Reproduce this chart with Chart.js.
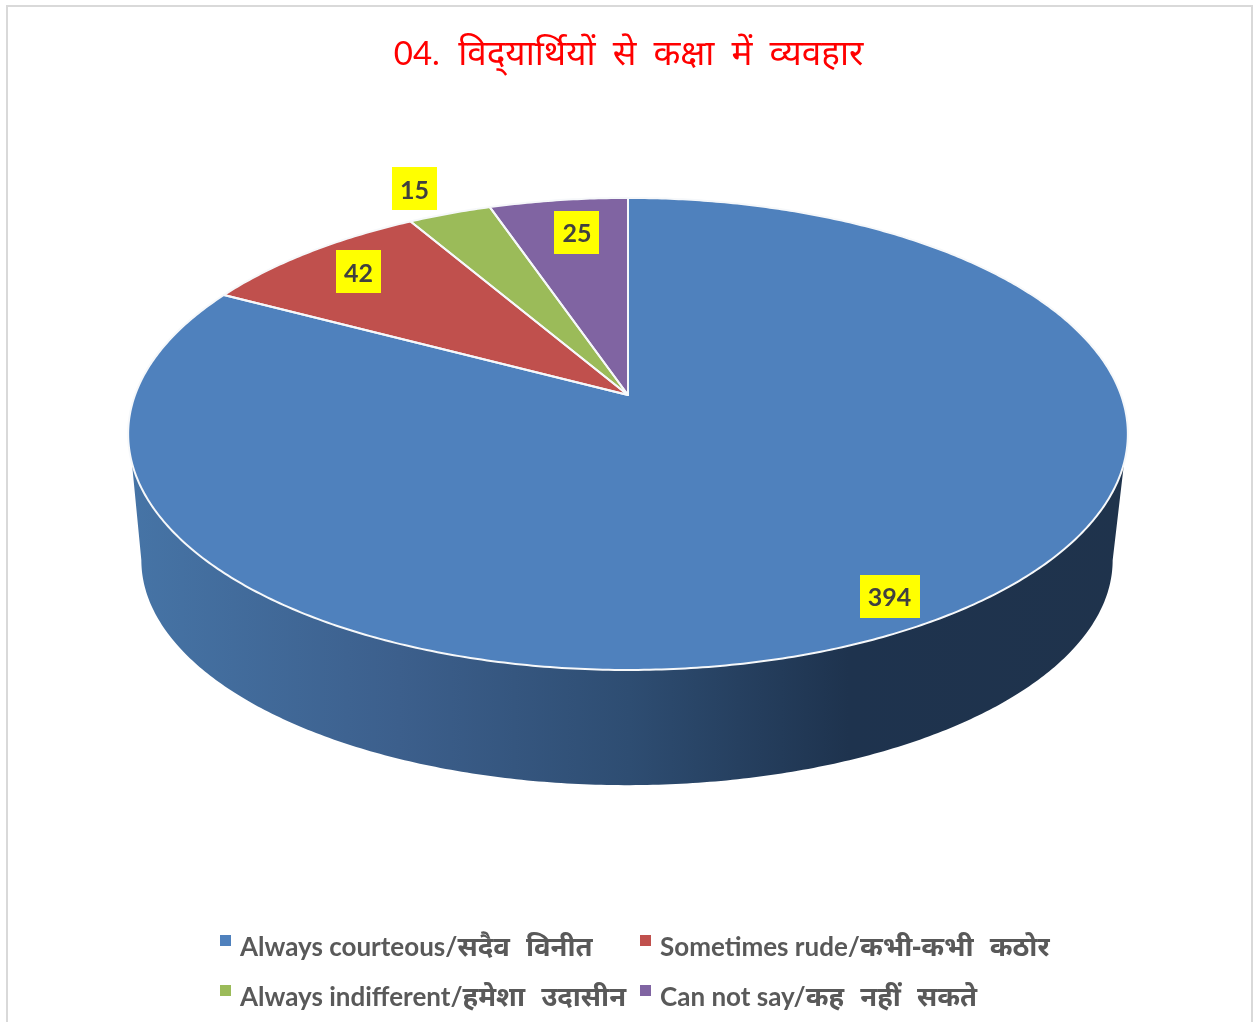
<!DOCTYPE html>
<html>
<head>
<meta charset="utf-8">
<script src="https://cdn.jsdelivr.net/npm/chart.js@4"></script>
<style>
  html, body { margin: 0; background: #fff; }
  #wrap { position: relative; width: 1254px; height: 1022px; overflow: hidden; }
  #frame { position: absolute; left: 6px; top: 5px; width: 1243px; height: 1100px; border: 2px solid #d9d9d9; }
  canvas { position: absolute; left: 0; top: 0; }
</style>
</head>
<body>
<div id="wrap"><div id="frame"></div><canvas id="c" width="1254" height="1022"></canvas></div>
<script>
"use strict";

// ZWNJ keeps the half-da visible, the way the original title shows it.
const titleText = "04. विद्\u200Cयार्थियों से कक्षा में व्यवहार";
const categories = [
  "Always courteous/सदैव विनीत",
  "Sometimes rude/कभी-कभी कठोर",
  "Always indifferent/हमेशा उदासीन",
  "Can not say/कह नहीं सकते",
];
const values = [394, 42, 15, 25];
const colors = ["#4f81bd", "#c0504d", "#9bbb59", "#8064a2"];

// Perspective of the pie top: unit circle -> screen.
const TOP = { cx: 628, cy: 395, rx: 493, ry: 229.6, k: 0.165 };
// Rim at the foot of the side wall.
const FOOT = { cx: 627, cy: 523, rx: 479, ry: 218.9, k: 0.165 };
// Angles (from 3 o'clock) where the wall leaves the top rim and reaches the foot.
const WALL_TOP = 0.286;
const WALL_FOOT = 0.166;

// Where each value label sits: fraction of the radius, then a small nudge.
const labelRadius = [0.89, 0.82, 1.2, 0.78];
const labelNudge = [[3, 1], [-3, -4], [-5, 6], [5, -6]];

// Legend cell layout, in reading order.
const legendX = [220, 640, 220, 640];
const legendY = [940, 940, 990, 990];

const TITLE_STYLE = { latin: "33px Lato", hindi: "35px 'Noto Sans', Lato", latinGap: "10px", hindiGap: "8px" };
const LEGEND_STYLE = { latin: "bold 26px Lato", hindi: "bold 27.5px 'Noto Sans', Lato", latinGap: "0px", hindiGap: "9px" };

function project(p, a, r = 1) {
  // a is the Chart.js angle: -PI/2 is twelve o'clock, clockwise
  const u = r * Math.cos(a), v = -r * Math.sin(a), w = 1 + p.k * v;
  return [p.cx + p.rx * u / w, p.cy - p.ry * v / w];
}

function traceRim(ctx, p, from, to) {
  const n = Math.max(2, Math.ceil(Math.abs(to - from) / 0.01));
  for (let i = 0; i <= n; i++) {
    const [x, y] = project(p, from + (to - from) * i / n);
    ctx.lineTo(x, y);
  }
}

// Wall angle on the top rim -> matching angle on the foot rim.
function footAngle(a) {
  const span = Math.PI - 2 * WALL_TOP;
  return WALL_FOOT + (a - WALL_TOP) / span * (Math.PI - 2 * WALL_FOOT);
}

// The Devanagari runs are set larger than the Latin ones, as in the original.
function mixedRuns(text) {
  return text.split(/([\u0900-\u097F][\u0900-\u097F\u200C\s-]*)/).filter(Boolean);
}

function setRun(ctx, run, style) {
  const hindi = /[\u0900-\u097F]/.test(run);
  ctx.font = hindi ? style.hindi : style.latin;
  ctx.wordSpacing = hindi ? style.hindiGap : style.latinGap;
}

function mixedWidth(ctx, text, style) {
  return mixedRuns(text).reduce((sum, run) => {
    setRun(ctx, run, style);
    return sum + ctx.measureText(run).width;
  }, 0);
}

function drawMixed(ctx, text, x, y, style) {
  ctx.textAlign = "left";
  ctx.textBaseline = "alphabetic";
  for (const run of mixedRuns(text)) {
    setRun(ctx, run, style);
    ctx.fillText(run, x, y);
    x += ctx.measureText(run).width;
  }
}

const pie3d = {
  id: "pie3d",
  beforeDatasetDraw(chart) {
    const ctx = chart.ctx;
    const arcs = chart.getDatasetMeta(0).data;
    // side wall: only the front of the slices shows
    arcs.forEach((arc) => {
      const from = Math.max(arc.startAngle, WALL_TOP);
      const to = Math.min(arc.endAngle, Math.PI - WALL_TOP);
      if (to <= from) return;
      const g = ctx.createLinearGradient(130, 0, 1128, 0);
      g.addColorStop(0, "#4674a6");
      g.addColorStop(0.27, "#3c5f8c");
      g.addColorStop(0.5, "#2e4d72");
      g.addColorStop(0.72, "#1e334e");
      g.addColorStop(1, "#1f334c");
      ctx.beginPath();
      traceRim(ctx, TOP, from, to);
      traceRim(ctx, FOOT, footAngle(to), footAngle(from));
      ctx.closePath();
      ctx.fillStyle = g;
      ctx.fill();
    });
    // top face
    ctx.save();
    ctx.lineJoin = "round";
    arcs.forEach((arc, i) => {
      ctx.beginPath();
      ctx.moveTo(TOP.cx, TOP.cy);
      traceRim(ctx, TOP, arc.startAngle, arc.endAngle);
      ctx.closePath();
      ctx.fillStyle = colors[i];
      ctx.fill();
    });
    arcs.forEach((arc) => {
      ctx.beginPath();
      ctx.moveTo(TOP.cx, TOP.cy);
      traceRim(ctx, TOP, arc.startAngle, arc.endAngle);
      ctx.closePath();
      ctx.strokeStyle = "#f6f8fa";
      ctx.lineWidth = 2;
      ctx.stroke();
    });
    ctx.restore();
    return false;
  },
  afterDatasetsDraw(chart) {
    const ctx = chart.ctx;
    const arcs = chart.getDatasetMeta(0).data;
    ctx.save();
    // title
    ctx.fillStyle = "#ff0000";
    drawMixed(ctx, titleText, 628.5 - mixedWidth(ctx, titleText, TITLE_STYLE) / 2, 65, TITLE_STYLE);
    // value labels on yellow
    ctx.font = "bold 25px Lato, 'Noto Sans'";
    ctx.wordSpacing = "0px";
    ctx.textAlign = "center";
    ctx.textBaseline = "middle";
    arcs.forEach((arc, i) => {
      const mid = (arc.startAngle + arc.endAngle) / 2;
      const [px, py] = project(TOP, mid, labelRadius[i]);
      const x = px + labelNudge[i][0], y = py + labelNudge[i][1];
      const text = String(values[i]);
      const w = Math.round(ctx.measureText(text).width) + 16, h = 43;
      ctx.fillStyle = "#ffff00";
      ctx.fillRect(Math.round(x - w / 2), Math.round(y - h / 2), w, h);
      ctx.fillStyle = "#404040";
      ctx.fillText(text, x, y + 2);
    });
    // legend
    categories.forEach((name, i) => {
      ctx.fillStyle = colors[i];
      ctx.fillRect(legendX[i], legendY[i] - 5, 11, 11);
      ctx.fillStyle = "#595959";
      drawMixed(ctx, name, legendX[i] + 20, legendY[i] + 16, LEGEND_STYLE);
    });
    ctx.restore();
  },
};

new Chart(document.getElementById("c"), {
  type: "pie",
  data: { labels: categories, datasets: [{ data: values, backgroundColor: colors }] },
  options: {
    responsive: false,
    animation: false,
    plugins: {
      legend: { display: false },
      tooltip: { enabled: false },
      title: { display: false },
    },
  },
  plugins: [pie3d],
});
</script>
</body>
</html>
